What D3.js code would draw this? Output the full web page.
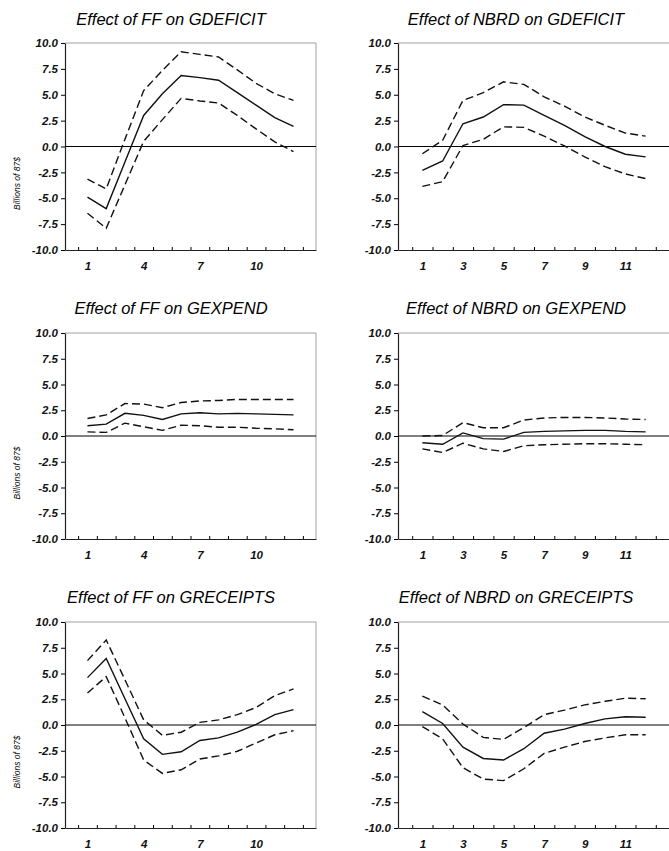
<!DOCTYPE html>
<html>
<head>
<meta charset="utf-8">
<script src="https://cdn.jsdelivr.net/npm/d3@7"></script>
<style>
  body { margin: 0; background: #fff; }
  svg { display: block; font-family: "Liberation Sans", Arial, sans-serif; }
  .title { font-size: 16.5px; font-style: italic; }
  .tick text { font-size: 11.5px; font-weight: bold; font-style: italic; fill: #111; }
  .ylab { font-size: 8.5px; font-style: italic; }
</style>
</head>
<body>
<svg id="chart" width="669" height="851"></svg>
<script>
// horizons (months after the shock)
const horizons = [1, 2, 3, 4, 5, 6, 7, 8, 9, 10, 11, 12];
const yTicks = [10, 7.5, 5, 2.5, 0, -2.5, -5, -7.5, -10];
const leftXLabels = [1, 4, 7, 10];
const rightXLabels = [1, 3, 5, 7, 9, 11];
const titles = [
  'Effect of FF on GDEFICIT', 'Effect of NBRD on GDEFICIT',
  'Effect of FF on GEXPEND', 'Effect of NBRD on GEXPEND',
  'Effect of FF on GRECEIPTS', 'Effect of NBRD on GRECEIPTS'
];

// point estimates and the two bands
const ffDeficitMid = [-4.9, -6.0, -1.5, 3.0, 5.1, 6.85, 6.65, 6.4, 5.2, 4.0, 2.8, 1.95];
const ffDeficitHi  = [-3.15, -4.1, 0.7, 5.4, 7.35, 9.15, 8.9, 8.65, 7.4, 6.1, 5.1, 4.45];
const ffDeficitLo  = [-6.45, -7.9, -3.7, 0.5, 2.6, 4.65, 4.4, 4.2, 3.0, 1.7, 0.45, -0.5];

const nbrdDeficitMid = [-2.3, -1.4, 2.2, 2.85, 4.05, 4.0, 3.0, 2.05, 0.95, 0.0, -0.75, -1.0];
const nbrdDeficitHi  = [-0.7, 0.6, 4.45, 5.2, 6.25, 6.0, 4.8, 3.9, 2.85, 2.05, 1.3, 1.0];
const nbrdDeficitLo  = [-3.85, -3.4, 0.1, 0.7, 1.9, 1.85, 1.0, 0.05, -1.0, -1.95, -2.65, -3.1];

const ffExpendMid = [1.0, 1.15, 2.2, 2.0, 1.6, 2.15, 2.25, 2.15, 2.2, 2.15, 2.1, 2.05];
const ffExpendHi  = [1.7, 2.05, 3.15, 3.1, 2.75, 3.25, 3.4, 3.45, 3.55, 3.55, 3.55, 3.55];
const ffExpendLo  = [0.4, 0.35, 1.25, 0.9, 0.55, 1.05, 1.0, 0.85, 0.85, 0.75, 0.7, 0.6];

const nbrdExpendMid = [-0.65, -0.8, 0.3, -0.25, -0.3, 0.35, 0.45, 0.5, 0.55, 0.55, 0.45, 0.4];
const nbrdExpendHi  = [0.0, 0.05, 1.3, 0.8, 0.8, 1.55, 1.75, 1.8, 1.8, 1.75, 1.65, 1.6];
const nbrdExpendLo  = [-1.25, -1.6, -0.7, -1.25, -1.5, -0.95, -0.85, -0.8, -0.75, -0.75, -0.8, -0.85];

const ffReceiptsMid = [4.6, 6.45, 2.55, -1.35, -2.85, -2.6, -1.5, -1.25, -0.7, 0.05, 1.0, 1.5];
const ffReceiptsHi  = [6.25, 8.25, 4.4, 0.5, -1.0, -0.7, 0.25, 0.5, 1.0, 1.7, 2.85, 3.5];
const ffReceiptsLo  = [3.1, 4.7, 0.7, -3.4, -4.7, -4.35, -3.3, -3.0, -2.55, -1.75, -0.95, -0.55];

const nbrdReceiptsMid = [1.3, 0.15, -2.15, -3.25, -3.4, -2.3, -0.8, -0.4, 0.15, 0.6, 0.8, 0.75];
const nbrdReceiptsHi  = [2.8, 1.95, 0.1, -1.2, -1.4, -0.25, 1.0, 1.45, 1.95, 2.3, 2.6, 2.55];
const nbrdReceiptsLo  = [-0.15, -1.35, -4.15, -5.25, -5.4, -4.25, -2.75, -2.15, -1.6, -1.25, -0.95, -0.95];

const mids = [ffDeficitMid, nbrdDeficitMid, ffExpendMid, nbrdExpendMid, ffReceiptsMid, nbrdReceiptsMid];
const his  = [ffDeficitHi, nbrdDeficitHi, ffExpendHi, nbrdExpendHi, ffReceiptsHi, nbrdReceiptsHi];
const los  = [ffDeficitLo, nbrdDeficitLo, ffExpendLo, nbrdExpendLo, ffReceiptsLo, nbrdReceiptsLo];

// panel frames (px)
const colX = [[65, 316], [398, 670]];
const rowY = [[43, 250], [333, 539], [622, 828]];
const titleY = [25, 314, 603];
const titleX = [171, 516];

var svg = d3.select('#chart');

function drawPanel(i) {
  const col = i % 2, row = Math.floor(i / 2);
  const x = d3.scaleLinear().domain([-0.2, 13.2]).range(colX[col]);
  const y = d3.scaleLinear().domain([-10, 10]).range([rowY[row][1], rowY[row][0]]);
  const g = svg.append('g');

  // grey frame top / right
  g.append('path')
    .attr('d', `M${x.range()[0]},${y(10)}H${x.range()[1]}V${y(-10)}`)
    .attr('fill', 'none').attr('stroke', '#888').attr('stroke-width', 0.8);

  // zero line
  g.append('line')
    .attr('x1', x.range()[0]).attr('x2', x.range()[1])
    .attr('y1', y(0)).attr('y2', y(0))
    .attr('stroke', '#000').attr('stroke-width', 1);

  // y axis
  g.append('g')
    .attr('transform', `translate(${x.range()[0]},0)`)
    .call(d3.axisLeft(y).tickValues(yTicks).tickSize(4).tickSizeOuter(0).tickPadding(3)
      .tickFormat(d => d.toFixed(1)))
    .call(a => a.select('.domain').attr('stroke', '#222').attr('stroke-width', 1.2));

  // x axis: little inward ticks between horizons, labels at horizons
  const halfTicks = d3.range(0.5, 13, 1);
  g.append('g')
    .attr('transform', `translate(0,${y(-10)})`)
    .call(d3.axisBottom(x).tickValues(halfTicks).tickSize(-3).tickSizeOuter(0).tickFormat(''))
    .call(a => a.select('.domain').attr('stroke', '#222').attr('stroke-width', 1.2));
  g.append('g')
    .attr('transform', `translate(0,${y(-10)})`)
    .call(d3.axisBottom(x).tickValues(col === 0 ? leftXLabels : rightXLabels).tickSize(0).tickPadding(12))
    .call(a => a.select('.domain').remove());

  const line = d3.line()
    .x((d, k) => x(horizons[k]))
    .y(d => y(d));

  [his[i], los[i]].forEach(function (band) {
    g.append('path').attr('d', line(band))
      .attr('fill', 'none').attr('stroke', '#111').attr('stroke-width', 1.4)
      .attr('stroke-dasharray', '8,4');
  });
  g.append('path').attr('d', line(mids[i]))
    .attr('fill', 'none').attr('stroke', '#111').attr('stroke-width', 1.4);

  svg.append('text').attr('class', 'title')
    .attr('x', titleX[col]).attr('y', titleY[row])
    .attr('text-anchor', 'middle').text(titles[i]);

  if (col === 0) {
    const cy = (rowY[row][0] + rowY[row][1]) / 2 + 37;
    svg.append('text').attr('class', 'ylab')
      .attr('transform', `translate(20,${cy}) rotate(-90)`)
      .attr('text-anchor', 'middle').text('Billions of 87$');
  }
}

for (let i = 0; i < 6; i++) drawPanel(i);
</script>
</body>
</html>
